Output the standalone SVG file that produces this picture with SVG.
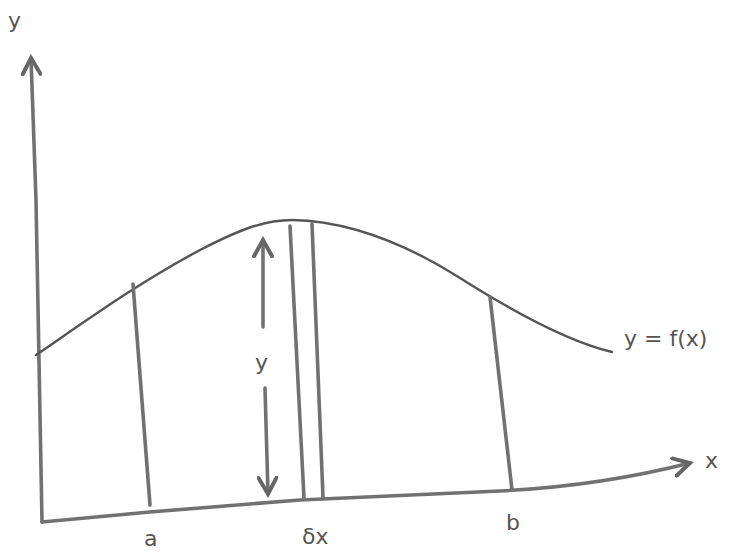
<svg xmlns="http://www.w3.org/2000/svg" width="740" height="556" viewBox="0 0 740 556">
<style>
.ln{fill:none;stroke:#717171;stroke-width:3.6;stroke-linecap:round;stroke-linejoin:round}
.cv{fill:none;stroke:#555;stroke-width:2.4;stroke-linecap:round}
.t{font-family:"DejaVu Sans","Liberation Sans",sans-serif;fill:#555;font-size:22px}
</style>
<defs>
<marker id="ah" viewBox="0 0 12 12" refX="10" refY="6" markerWidth="6" markerHeight="6" orient="auto-start-reverse" markerUnits="strokeWidth">
<path d="M1,1 L10,6 L1,11" fill="none" stroke="#666" stroke-width="2.2" stroke-linecap="round"/>
</marker>
</defs>
<rect width="740" height="556" fill="#fff"/>
<g id="axes">
<path class="ln" d="M42,522 L36,200 L31,58" marker-end="url(#ah)"/>
<path class="ln" d="M42,522 L150,512 L300,500 L500,491 Q600,486 690,463" marker-end="url(#ah)"/>
</g>
<g id="curve">
<path class="cv" d="M36,355 C90,318 140,282 200,250 C235,232 262,220 292,220 C345,221 400,240 460,278 C520,316 570,342 612,352"/>
</g>
<g id="strips">
<path class="ln" d="M133,284 L150,505"/>
<path class="ln" d="M290,226 L304,498"/>
<path class="ln" d="M312,224 L323,497"/>
<path class="ln" d="M490,297 L512,490"/>
</g>
<g id="connectors">
<path class="ln" d="M263,327 L263,240" marker-end="url(#ah)"/>
<path class="ln" d="M265,388 L268,494" marker-end="url(#ah)"/>
</g>
<g id="labels">
<text class="t" x="8" y="28">y</text>
<text class="t" x="705" y="468">x</text>
<text class="t" x="624" y="346">y = f(x)</text>
<text class="t" x="255" y="370">y</text>
<text class="t" x="144" y="546">a</text>
<text class="t" x="302" y="544">δx</text>
<text class="t" x="506" y="530">b</text>
</g>
</svg>
